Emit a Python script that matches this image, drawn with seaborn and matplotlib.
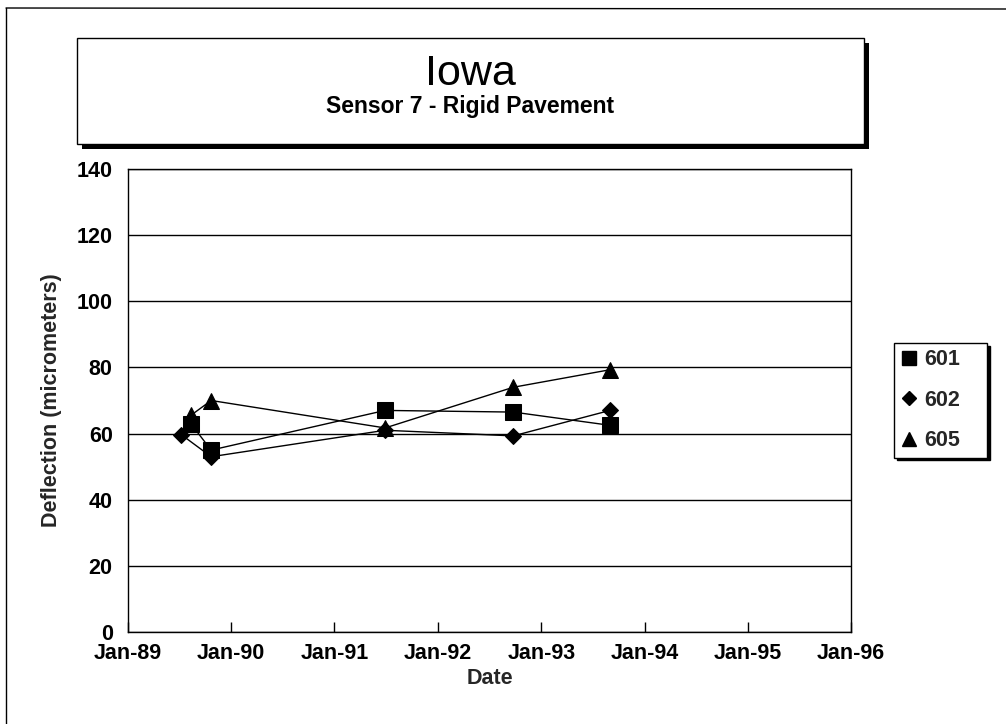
import matplotlib
matplotlib.use('Agg')
import matplotlib.pyplot as plt
import matplotlib.dates as mdates
from matplotlib.patches import Rectangle
from matplotlib.lines import Line2D
import seaborn as sns
import pandas as pd

# ---- data ----
series_names = ['601', '602', '605']
dates_601 = ['1989-08-11', '1989-10-22', '1991-06-29', '1992-09-24', '1993-09-01']
values_601 = [63.0, 55.0, 67.0, 66.5, 62.5]
dates_602 = ['1989-07-08', '1989-10-22', '1991-06-29', '1992-09-24', '1993-09-01']
values_602 = [59.7, 53.0, 61.0, 59.3, 67.0]
dates_605 = ['1989-08-11', '1989-10-22', '1991-06-29', '1992-09-24', '1993-09-01']
values_605 = [65.5, 70.0, 61.7, 74.0, 79.3]
year_ticks = ['1989-01-01', '1990-01-01', '1991-01-01', '1992-01-01',
              '1993-01-01', '1994-01-01', '1995-01-01', '1996-01-01']
y_ticks = [0, 20, 40, 60, 80, 100, 120, 140]
title = 'Iowa'
subtitle = 'Sensor 7 - Rigid Pavement'
x_label = 'Date'
y_label = 'Deflection (micrometers)'

sns.set_style('white')
plt.rcParams['font.family'] = ['Liberation Sans', 'DejaVu Sans']
plt.rcParams['font.weight'] = 'bold'

W, H = 1006, 724
fig = plt.figure(figsize=(W / 100, H / 100), dpi=100)
fig.patch.set_facecolor('white')

def fx(px):
    return px / W

def fy(py):
    return (H - py) / H

# outer border (top and left visible)
fig.add_artist(Line2D([fx(6), fx(6)], [0, fy(8)], transform=fig.transFigure, color='black', lw=1.0))
fig.add_artist(Line2D([fx(6), 1.0], [fy(8), fy(9)], transform=fig.transFigure, color='black', lw=1.0))

# title box with shadow
bx0, bx1, by0, by1 = 77, 864, 38, 144
fig.add_artist(Rectangle((fx(bx0 + 5), fy(by1 + 5)), fx(bx1 - bx0), (by1 - by0) / H,
                         transform=fig.transFigure, facecolor='black', edgecolor='black', lw=0))
fig.add_artist(Rectangle((fx(bx0), fy(by1)), fx(bx1 - bx0), (by1 - by0) / H,
                         transform=fig.transFigure, facecolor='white', edgecolor='black', lw=1.0))
fig.text(fx((bx0 + bx1) / 2), fy(85), title, ha='center', va='baseline',
         fontsize=31, fontweight='normal', color='black')
fig.text(fx((bx0 + bx1) / 2), fy(113), subtitle, ha='center', va='baseline',
         fontsize=16.5, fontweight='bold', color='black')

# axes
ax = fig.add_axes([fx(128), fy(632), fx(851 - 128), (632 - 169) / H])

styles = {'601': ('s', 12), '602': ('D', 8), '605': ('^', 12)}
series = {
    '601': (dates_601, values_601),
    '602': (dates_602, values_602),
    '605': (dates_605, values_605),
}
for name in series_names:
    d, v = series[name]
    df = pd.DataFrame({'date': pd.to_datetime(d), 'value': v})
    mk, ms = styles[name]
    sns.lineplot(data=df, x='date', y='value', ax=ax, color='black', lw=1.0,
                 marker=mk, markersize=ms, markeredgecolor='black',
                 markerfacecolor='black', sort=False, legend=False, zorder=3)

ax.set_xlim(pd.Timestamp(year_ticks[0]), pd.Timestamp(year_ticks[-1]))
ax.set_ylim(y_ticks[0], y_ticks[-1])
ax.set_xticks(pd.to_datetime(year_ticks))
ax.xaxis.set_major_formatter(mdates.DateFormatter('%b-%y'))
ax.set_yticks(y_ticks)
ax.grid(False)
ax.yaxis.grid(True, color='black', lw=1.0)
ax.set_axisbelow(True)
for s in ax.spines.values():
    s.set_color('black')
    s.set_linewidth(1.0)
    s.set_visible(True)
ax.tick_params(axis='x', direction='in', length=7, width=1, pad=8,
               labelsize=15.5, colors='black', bottom=True, top=False)
ax.tick_params(axis='y', length=0, pad=11, labelsize=15.5, colors='black', left=True)
ax.set_xlabel(x_label, fontsize=15.5, fontweight='bold')
ax.set_ylabel(y_label, fontsize=15.5, fontweight='bold')
ax.xaxis.set_label_coords(0.5, (632 - 668) / 463)
ax.yaxis.set_label_coords((62 - 128) / 723, 0.5)

# legend
handles = [Line2D([], [], ls='none', marker=styles[n][0], color='black',
                  markersize=styles[n][1] * 0.85) for n in series_names]
leg = fig.legend(handles, series_names, loc='upper left', mode='expand',
                 bbox_to_anchor=(fx(894), fy(459), fx(987 - 894), (459 - 343) / H),
                 bbox_transform=fig.transFigure,
                 frameon=True, fancybox=False, edgecolor='black', framealpha=1,
                 shadow={'color': 'black', 'alpha': 1}, fontsize=15.5,
                 handlelength=0.8, handletextpad=0.3, borderpad=0.3,
                 labelspacing=0.9, borderaxespad=0)
leg.get_frame().set_linewidth(1.0)

fig.savefig('out.png', dpi=100)
